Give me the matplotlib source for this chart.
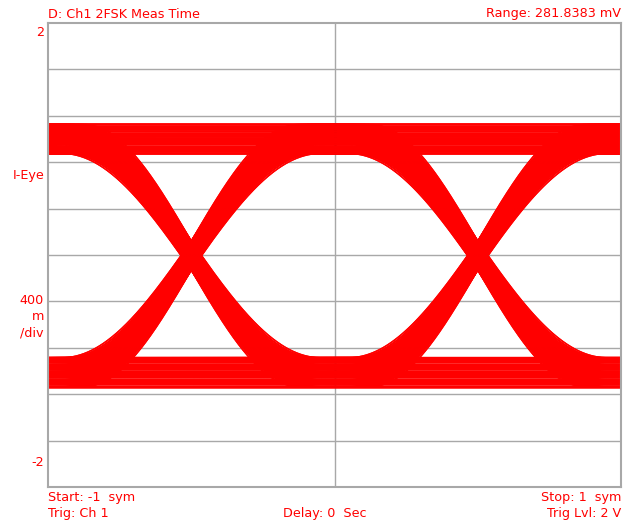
import numpy as np
import matplotlib
matplotlib.use("Agg")
import matplotlib.pyplot as plt
from itertools import product

# ---- values ----
levels = {1: 1.0, 0: -1.01}                  # high / low symbol levels (V)
crossing_times = [-0.5, 0.5]                 # symbol boundaries (sym)
transition_widths = [0.75, 0.78, 0.81, 0.84, 0.87, 0.9]   # raised-cosine transition durations (sym)
level_offsets = [-0.125, -0.105, -0.085, -0.065, -0.045, -0.025, -0.005,
                 0.005, 0.025, 0.045, 0.065, 0.085, 0.105, 0.125]
x_range = (-1.0, 1.0)
y_range = (-2.0, 2.0)
y_div = 0.4

title_left = "D: Ch1 2FSK Meas Time"
title_right = "Range: 281.8383 mV"
foot_left = ["Start: -1  sym", "Trig: Ch 1"]
foot_mid = "Delay: 0  Sec"
foot_right = ["Stop: 1  sym", "Trig Lvl: 2 V"]

RED = "#ff0000"
GRID = "#a8a8a8"

W, H = 633, 527
fig = plt.figure(figsize=(W / 100, H / 100), dpi=100)
L, R, T, B = 48, 621, 23, 487
ax = fig.add_axes([L / W, 1 - B / H, (R - L) / W, (B - T) / H])
ax.set_xlim(*x_range)
ax.set_ylim(*y_range)

# grid
for yv in np.arange(y_range[0] + y_div, y_range[1] - 1e-9, y_div):
    ax.axhline(yv, color=GRID, lw=1.0, zorder=1)
ax.axvline(0.0, color=GRID, lw=1.0, zorder=1)

# eye traces
t = np.linspace(x_range[0], x_range[1], 600)

def shape(u):
    u = np.clip(u, -0.5, 0.5)
    return (1 + np.sin(np.pi * u)) / 2

traces = []
for bits in product([1, 0], repeat=3):
    for D in transition_widths:
        for off in level_offsets:
            y = np.full_like(t, levels[bits[0]])
            for k, tc in enumerate(crossing_times):
                a, b = levels[bits[k]], levels[bits[k + 1]]
                if a != b:
                    y = y + (b - a) * shape((t - tc) / D)
            traces.append(y + off)
traces = np.array(traces).T
ax.plot(t, traces, color=RED, lw=1.0, zorder=2, solid_capstyle="butt")

ax.set_xticks([])
ax.set_yticks([])
for s in ax.spines.values():
    s.set_color(GRID)
    s.set_linewidth(1.5)
    s.set_zorder(3)

fs = 9.2
fam = "DejaVu Sans"
def ftext(x, y, s, ha="left"):
    fig.text(x / W, 1 - y / H, s, ha=ha, va="center", color=RED, fontsize=fs, family=fam)

ftext(L, 14, title_left)
ftext(R, 14, title_right, ha="right")
ftext(44, 33, "2", ha="right")
ftext(44, 176, "I-Eye", ha="right")
ftext(44, 300, "400", ha="right")
ftext(44, 317, "m", ha="right")
ftext(44, 333, "/div", ha="right")
ftext(44, 462, "-2", ha="right")
ftext(L, 497, foot_left[0])
ftext(L, 514, foot_left[1])
ftext(325, 514, foot_mid, ha="center")
ftext(R, 497, foot_right[0], ha="right")
ftext(R, 514, foot_right[1], ha="right")

fig.savefig("out.png", dpi=100, facecolor="white")
